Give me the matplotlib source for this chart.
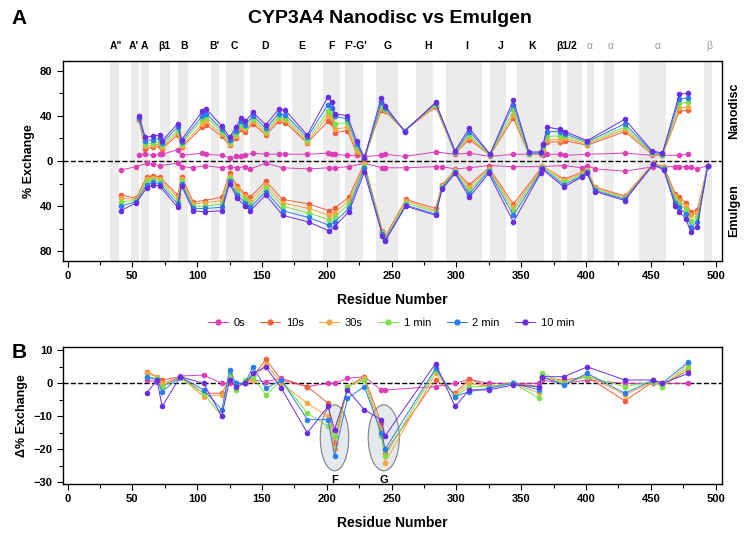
import matplotlib
matplotlib.use("Agg")
import matplotlib.pyplot as plt
from matplotlib.patches import Ellipse
from matplotlib.ticker import MultipleLocator, FixedLocator, FuncFormatter
import matplotlib.transforms as mtransforms

plt.rcParams['font.family'] = ['Liberation Sans', 'DejaVu Sans']

TIMES = ["0s", "10s", "30s", "1 min", "2 min", "10 min"]
COLORS = ["#dc3fb8", "#f0603c", "#f5a742", "#7be04a", "#2a7ff0", "#6a2ee0"]

# secondary structure labels (residue, text, colour)
ss_pos = [37, 51, 59.5, 74.5, 90, 113, 129, 152, 180.5, 204, 222, 247, 278, 308, 334, 358, 385, 403, 419, 455, 495]
ss_text = ['A"', "A'", "A", "β1", "B", "B'", "C", "D", "E", "F", "F'-G'", "G", "H", "I", "J", "K", "β1/2", "α", "α", "α", "β"]
ss_grey = [False] * 17 + [True] * 4
# shaded regions (start, end residue)
bands = [(33, 40), (49, 55), (57, 63), (71, 79), (85, 93), (111, 117), (122, 136),
         (141, 165), (173, 188), (197, 210), (214, 228), (238, 255), (269, 282),
         (292, 320), (326, 338), (347, 368), (374, 381), (385, 397), (401, 406),
         (414, 422), (441, 462), (491, 497)]

# Nanodisc (positive side)
nd_res = [55, 60, 66, 71, 73, 85, 88, 104, 107, 119, 125, 130, 134, 137, 143, 153, 163, 168, 185,
          201, 204, 206, 216, 223, 229, 242, 245, 260, 284, 299, 310, 326, 344, 356, 365, 367, 370,
          380, 384, 401, 430, 451, 459, 472, 479]
nd_0s = [5, 6, 5, 6, 6, 10, 5, 7, 6, 5, 3, 4, 4, 5, 7, 6, 6, 6, 6,
         7, 6, 6, 5, 5, 4, 5, 6, 4, 8, 6, 7, 4, 6, 6, 6, 5, 6,
         6, 5, 6, 7, 5, 5, 5, 6]
nd_10s = [36, 11, 12, 13, 11, 23, 12, 30, 32, 22, 14, 20, 28, 26, 33, 23, 35, 34, 16,
          35, 34, 25, 27, 7, 2, 45, 44, 27, 48, 7, 19, 5, 38, 6, 6, 9, 17,
          17, 18, 14, 26, 6, 5, 44, 45]
nd_30s = [37, 13, 14, 15, 12, 25, 13, 33, 35, 24, 15, 22, 30, 28, 35, 25, 37, 36, 17,
          40, 38, 28, 30, 9, 2, 47, 45, 27, 49, 7, 21, 5, 41, 6, 6, 10, 19,
          19, 20, 15, 28, 6, 5, 47, 48]
nd_1m = [38, 15, 16, 17, 14, 27, 15, 37, 39, 26, 17, 24, 32, 30, 37, 27, 39, 38, 19,
         44, 42, 33, 34, 12, 2, 49, 46, 27, 50, 8, 23, 5, 45, 6, 7, 12, 22,
         22, 22, 16, 30, 7, 5, 51, 52]
nd_2m = [38, 18, 19, 20, 16, 30, 17, 40, 42, 28, 19, 27, 35, 32, 40, 29, 42, 41, 21,
         50, 47, 40, 37, 15, 2, 52, 47, 27, 51, 8, 26, 6, 50, 7, 7, 14, 26,
         26, 24, 17, 33, 8, 6, 55, 56]
nd_10m = [40, 21, 22, 23, 18, 33, 19, 44, 46, 31, 21, 30, 38, 35, 43, 32, 46, 45, 23,
          57, 52, 42, 40, 18, 3, 56, 49, 26, 52, 9, 29, 6, 54, 8, 8, 15, 30,
          28, 26, 18, 37, 9, 7, 59, 60]

# Emulgen (negative side)
em_res = [41, 53, 61, 66, 71, 85, 88, 97, 106, 119, 125, 131, 137, 141, 153, 166, 186, 202, 206,
          217, 229, 243, 245, 261, 284, 289, 299, 310, 325, 344, 365, 366, 383, 397, 401, 407,
          430, 452, 460, 469, 472, 477, 481, 486, 494]
em_0s = [-8, -5, -2, -3, -4, -2, -5, -6, -4, -6, -5, -6, -5, -7, -2, -6, -7, -6, -6,
         -5, -2, -6, -6, -6, -5, -5, -7, -6, -4, -5, -5, -5, -4, -6, -4, -7,
         -9, -5, -5, -5, -5, -5, -5, -7, -4]
em_10s = [-30, -33, -14, -13, -14, -30, -14, -36, -35, -32, -11, -22, -29, -32, -18, -34, -38, -44, -42,
          -32, -2, -62, -67, -34, -42, -21, -8, -21, -6, -38, -7, -4, -16, -10, -8, -23,
          -31, -2, -5, -29, -32, -37, -45, -43, -4]
em_30s = [-33, -34, -16, -15, -16, -32, -16, -38, -37, -35, -13, -24, -31, -35, -21, -37, -42, -48, -46,
          -35, -3, -63, -68, -35, -44, -22, -8, -23, -7, -41, -8, -4, -17, -11, -8, -24,
          -32, -2, -6, -31, -35, -40, -48, -46, -4]
em_1m = [-36, -35, -18, -17, -18, -35, -18, -40, -40, -38, -15, -27, -34, -38, -24, -40, -46, -52, -50,
         -38, -4, -64, -69, -37, -45, -23, -9, -26, -8, -44, -9, -5, -19, -12, -9, -25,
         -33, -3, -6, -34, -38, -43, -53, -50, -4]
em_2m = [-40, -36, -21, -19, -20, -38, -20, -42, -42, -41, -18, -30, -37, -41, -27, -44, -50, -57, -54,
         -42, -6, -65, -70, -39, -47, -24, -10, -29, -9, -48, -10, -6, -21, -13, -10, -26,
         -34, -3, -7, -37, -41, -47, -58, -54, -4]
em_10m = [-44, -37, -24, -21, -22, -41, -22, -44, -45, -44, -20, -33, -40, -44, -30, -48, -54, -62, -58,
          -45, -10, -66, -71, -40, -48, -25, -11, -32, -11, -54, -11, -7, -23, -14, -11, -27,
          -35, -3, -8, -40, -45, -51, -63, -58, -4]

# Difference (panel B)
db_res = [61, 69, 73, 87, 105, 119, 125, 130, 137, 143, 153, 165, 185, 201, 206, 216, 229, 242, 245,
          284, 299, 310, 325, 344, 364, 366, 383, 401, 430, 452, 459, 479]
db_0s = [1, 0.5, -1, 2.2, 2.5, 0, 0, 0, 0, 1, 0.5, 1.5, -1, 0, 0, 1.5, 2, -2, -2,
         -1, 0, 1.2, 0, 0, 0, 1, 0, 1, 0, 0, 0, 0]
db_10s = [3.5, 2, 1, 2, -3, -3, 1, 0, 0, 2, 7.3, 1, -1, -6, -18, -1, 2, -12, -21,
          1, -3, 1.2, -1, 0, -1, 1.5, 1, 2, -5.3, 0.5, -0.5, 4]
db_30s = [3, 2, 0, 2, -4, -3.5, 2, -1, 0, 1, 6, 0, -6, -10, -20, -1, 1.5, -14, -24,
          3, -3.5, 0, -1, 0, -3, 2, 0, 2.5, -3.5, 0.5, -1, 6]
db_1m = [2, 1.5, -1, 1.5, -3, -10, 3, -2, 1, 2, -3.6, 1, -9, -13, -16, -1, 1, -16, -22,
         4, -4, -1, -1, 0, -4.5, 3.2, 0, 2, -1, 0.5, -1, 5]
db_2m = [2, 1, -2.5, 2, -2, -8, 4, 0, 0, 5, -1.5, 1, -11, -11, -22, -4.5, -1, -15, -20,
         4.5, -4, -2.5, -1.5, 0, -2, 2, -0.5, 3, -3, 1, 0, 6.5]
db_10m = [-3, 1, -7, 2, 0, -10, 1, -1, 0, 3, 5, -1.5, -15, -7, -14, -2, -8, -11, -16,
          6, -7, -2, -2, -0.5, -1, 2, 2, 5, 1, 1, 0, 3]

nd_series = [nd_0s, nd_10s, nd_30s, nd_1m, nd_2m, nd_10m]
em_series = [em_0s, em_10s, em_30s, em_1m, em_2m, em_10m]
db_series = [db_0s, db_10s, db_30s, db_1m, db_2m, db_10m]

# ellipse highlights in panel B (label, centre residue, centre y, width, height)
hl_label = ["F", "G"]
hl_x = [206, 244]
hl_y = [-16.5, -16.5]
hl_w = [22, 24]
hl_h = [20, 20]


def style_axes(ax):
    for s in ax.spines.values():
        s.set_linewidth(1.0)
    ax.tick_params(axis='both', which='both', direction='out', width=0.8)
    ax.tick_params(axis='both', which='major', length=4, labelsize=8)
    ax.tick_params(axis='both', which='minor', length=3)
    ax.xaxis.set_major_locator(MultipleLocator(50))
    ax.xaxis.set_minor_locator(MultipleLocator(25))
    ax.set_xlim(-3.5, 505)
    for lab in ax.get_xticklabels() + ax.get_yticklabels():
        lab.set_fontweight('bold')


fig = plt.figure(figsize=(7.49, 5.40), dpi=100)

# ---------------- Panel A ----------------
axA = fig.add_axes([0.0841, 0.5167, 0.8799, 0.3709])
for (a, b) in bands:
    axA.axvspan(a, b, color='#ebebeb', lw=0, zorder=0)
axA.axhline(0, color='black', ls='--', lw=1.0, zorder=1)
for vals, c in zip(nd_series, COLORS):
    axA.plot(nd_res, vals, '-o', color=c, lw=0.7, ms=3, mec=c, zorder=3)
for vals, c in zip(em_series, COLORS):
    axA.plot(em_res, vals, '-o', color=c, lw=0.7, ms=3, mec=c, zorder=3)
axA.set_ylim(-88.5, 88.8)
axA.yaxis.set_major_locator(FixedLocator([-80, -40, 0, 40, 80]))
axA.yaxis.set_minor_locator(FixedLocator([-60, -20, 20, 60]))
axA.yaxis.set_major_formatter(FuncFormatter(lambda v, p: f"{abs(int(v))}"))
style_axes(axA)
axA.set_ylabel("% Exchange", fontsize=9, fontweight='bold', labelpad=4)
axA.set_xlabel("Residue Number", fontsize=10, fontweight='bold', labelpad=8)

trans = mtransforms.blended_transform_factory(axA.transData, axA.transAxes)
for x, t, g in zip(ss_pos, ss_text, ss_grey):
    axA.text(x, 1.075, t, transform=trans, ha='center', va='center', fontsize=7.5,
             fontweight='normal' if g else 'bold', color='#9a9a9a' if g else 'black')
axA.text(1.019, 0.75, "Nanodisc", transform=axA.transAxes, rotation=90, ha='center',
         va='center', fontsize=9, fontweight='bold')
axA.text(1.019, 0.25, "Emulgen", transform=axA.transAxes, rotation=90, ha='center',
         va='center', fontsize=9, fontweight='bold')

handles = [axA.plot([], [], '-o', color=c, lw=0.7, ms=3.5)[0] for c in COLORS]
fig.legend(handles, TIMES, loc='center', bbox_to_anchor=(0.522, 0.402), ncol=6, frameon=False,
           fontsize=8, handlelength=1.8, columnspacing=1.4, handletextpad=0.5)

# ---------------- Panel B ----------------
axB = fig.add_axes([0.0841, 0.1037, 0.8799, 0.2543])
for lab, x, y, w, h in zip(hl_label, hl_x, hl_y, hl_w, hl_h):
    axB.add_patch(Ellipse((x, y), w, h, facecolor='#e4e9ee', edgecolor='#808080', lw=0.8, zorder=1))
    axB.text(x, y - h / 2 - 1.2, lab, ha='center', va='top', fontsize=8, fontweight='bold')
axB.axhline(0, color='black', ls='--', lw=1.0, zorder=2)
for vals, c in zip(db_series, COLORS):
    axB.plot(db_res, vals, '-o', color=c, lw=0.7, ms=3, mec=c, zorder=3)
axB.set_ylim(-30.5, 11.1)
axB.yaxis.set_major_locator(MultipleLocator(10))
axB.yaxis.set_minor_locator(MultipleLocator(5))
style_axes(axB)
axB.set_ylabel("Δ% Exchange", fontsize=9, fontweight='bold', labelpad=4)
axB.set_xlabel("Residue Number", fontsize=10, fontweight='bold', labelpad=8)

fig.text(0.52, 0.965, "CYP3A4 Nanodisc vs Emulgen", ha='center', va='center', fontsize=14, fontweight='bold')
fig.text(0.025, 0.965, "A", ha='center', va='center', fontsize=15, fontweight='bold')
fig.text(0.025, 0.347, "B", ha='center', va='center', fontsize=15, fontweight='bold')

fig.savefig("out.png", dpi=100)
